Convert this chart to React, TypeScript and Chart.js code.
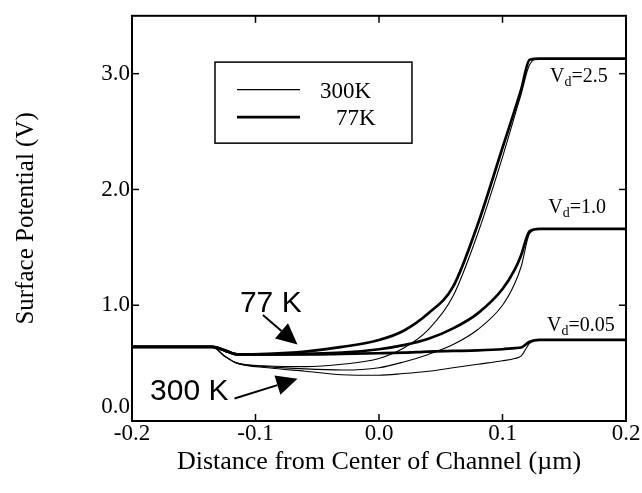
import React, { useEffect, useRef } from "react";
import { Chart, registerables } from "chart.js";

Chart.register(...registerables);

// Distance from center of channel (µm) — shared sampling positions
const X = [-0.2, -0.135, -0.125, -0.115, -0.09, -0.06, -0.03, 0.0, 0.02, 0.04, 0.06, 0.08, 0.1, 0.11, 0.115, 0.122, 0.13, 0.2];

// 77 K (thick lines)
const k77Vd005 = [0.64, 0.64, 0.61, 0.575, 0.575, 0.575, 0.58, 0.585, 0.59, 0.6, 0.605, 0.61, 0.62, 0.63, 0.635, 0.685, 0.7, 0.7];
const k77Vd10 = [0.64, 0.64, 0.61, 0.575, 0.575, 0.58, 0.59, 0.62, 0.655, 0.71, 0.8, 0.93, 1.14, 1.31, 1.43, 1.64, 1.66, 1.66];
const k77Vd25 = [0.64, 0.64, 0.61, 0.575, 0.58, 0.6, 0.64, 0.7, 0.78, 0.93, 1.16, 1.7, 2.36, 2.69, 2.86, 3.12, 3.13, 3.13];

// 300 K (thin lines)
const k300Vd005 = [0.64, 0.64, 0.56, 0.5, 0.46, 0.43, 0.4, 0.395, 0.41, 0.43, 0.46, 0.49, 0.52, 0.54, 0.56, 0.67, 0.7, 0.7];
const k300Vd10 = [0.64, 0.64, 0.56, 0.5, 0.47, 0.45, 0.44, 0.46, 0.51, 0.575, 0.66, 0.79, 1.0, 1.19, 1.33, 1.62, 1.66, 1.66];
const k300Vd25 = [0.64, 0.64, 0.56, 0.5, 0.475, 0.47, 0.49, 0.54, 0.63, 0.79, 1.08, 1.62, 2.28, 2.64, 2.82, 3.08, 3.13, 3.13];

const seriesLabels = ["300K", "77K"];
const vdLabels = ["2.5", "1.0", "0.05"];
const xTickValues = [-0.2, -0.1, 0.0, 0.1, 0.2];

const THIN = 1.1;
const THICK = 2.7;
const SERIF = "'Liberation Serif', 'Times New Roman', serif";
const SANS = "'Liberation Sans', Arial, sans-serif";

// annotation anchors in data coordinates
const vdLabelPos = [
  { x: 0.1385, y: 2.93 },
  { x: 0.137, y: 1.8 },
  { x: 0.136, y: 0.78 },
];
const legendBox = { x0: -0.1328, x1: 0.0267, y0: 3.1, y1: 2.4 };
const arrow77 = { text: "77 K", tx: -0.1126, ty: 0.94, x0: -0.094, y0: 0.915, x1: -0.066, y1: 0.66 };
const arrow300 = { text: "300 K", tx: -0.1854, ty: 0.178, x0: -0.117, y0: 0.195, x1: -0.066, y1: 0.364 };

function toPts(ys: number[]) {
  return X.map((x, i) => ({ x, y: ys[i] }));
}

const framePlugin = {
  id: "frameAndAnnotations",
  afterDraw(chart: any) {
    const { ctx, chartArea, scales } = chart;
    const { left, right, top, bottom } = chartArea;
    const xs = scales.x;
    const ys = scales.y;
    ctx.save();
    ctx.strokeStyle = "#000";
    ctx.fillStyle = "#000";
    ctx.lineWidth = 2;
    ctx.strokeRect(left, top, right - left, bottom - top);

    const line = (a: number, b: number, c: number, d: number) => {
      ctx.beginPath();
      ctx.moveTo(a, b);
      ctx.lineTo(c, d);
      ctx.stroke();
    };
    ctx.lineWidth = 1.5;
    ys.ticks.forEach((t: any) => {
      if (t.value <= ys.min || t.value >= ys.max) return;
      const py = ys.getPixelForValue(t.value);
      const major = Math.abs(t.value - Math.round(t.value)) < 1e-9;
      const len = major ? 7 : 4;
      line(left, py, left + len, py);
      line(right, py, right - len, py);
    });
    xs.ticks.forEach((t: any) => {
      if (t.value <= xs.min + 1e-9 || t.value >= xs.max - 1e-9) return;
      const px = xs.getPixelForValue(t.value);
      line(px, bottom, px, bottom - 7);
      line(px, top, px, top + 7);
    });

    // legend
    const bx0 = xs.getPixelForValue(legendBox.x0);
    const bx1 = xs.getPixelForValue(legendBox.x1);
    const by0 = ys.getPixelForValue(legendBox.y0);
    const by1 = ys.getPixelForValue(legendBox.y1);
    ctx.lineWidth = 1.5;
    ctx.strokeRect(bx0, by0, bx1 - bx0, by1 - by0);
    const h = by1 - by0;
    const rows = [by0 + h * 0.34, by0 + h * 0.68];
    const widths = [THIN, THICK];
    ctx.font = `23px ${SERIF}`;
    ctx.textBaseline = "middle";
    ctx.textAlign = "left";
    seriesLabels.forEach((lab, i) => {
      ctx.lineWidth = widths[i];
      line(bx0 + 22, rows[i], bx0 + 85, rows[i]);
      ctx.fillText(lab, bx0 + (i === 0 ? 105 : 121), rows[i] + 2);
    });

    // Vd labels
    vdLabels.forEach((v, i) => {
      let px = xs.getPixelForValue(vdLabelPos[i].x);
      const py = ys.getPixelForValue(vdLabelPos[i].y);
      ctx.textBaseline = "alphabetic";
      ctx.font = `20px ${SERIF}`;
      ctx.fillText("V", px, py);
      px += ctx.measureText("V").width;
      ctx.font = `14px ${SERIF}`;
      ctx.fillText("d", px, py + 4);
      px += ctx.measureText("d").width;
      ctx.font = `20px ${SERIF}`;
      ctx.fillText("=" + v, px, py);
    });

    // arrows with text
    [arrow77, arrow300].forEach((a) => {
      ctx.font = `30px ${SANS}`;
      ctx.textBaseline = "alphabetic";
      ctx.fillText(a.text, xs.getPixelForValue(a.tx), ys.getPixelForValue(a.ty));
      const x0 = xs.getPixelForValue(a.x0);
      const y0 = ys.getPixelForValue(a.y0);
      const x1 = xs.getPixelForValue(a.x1);
      const y1 = ys.getPixelForValue(a.y1);
      const ang = Math.atan2(y1 - y0, x1 - x0);
      const hl = 21;
      const hw = 10;
      const bxm = x1 - hl * Math.cos(ang);
      const bym = y1 - hl * Math.sin(ang);
      ctx.lineWidth = 2;
      line(x0, y0, bxm, bym);
      ctx.beginPath();
      ctx.moveTo(x1, y1);
      ctx.lineTo(bxm + hw * Math.sin(ang), bym - hw * Math.cos(ang));
      ctx.lineTo(bxm - hw * Math.sin(ang), bym + hw * Math.cos(ang));
      ctx.closePath();
      ctx.fill();
    });
    ctx.restore();
  },
};

export default function App() {
  const ref = useRef<HTMLCanvasElement | null>(null);
  useEffect(() => {
    if (!ref.current) return;
    const mk = (label: string, ys: number[], w: number) => ({
      label,
      data: toPts(ys),
      borderColor: "#000",
      backgroundColor: "#000",
      borderWidth: w,
      pointRadius: 0,
      fill: false,
      cubicInterpolationMode: "monotone" as const,
    });
    const chart = new Chart(ref.current, {
      type: "line",
      data: {
        datasets: [
          mk("300K Vd=0.05", k300Vd005, THIN),
          mk("300K Vd=1.0", k300Vd10, THIN),
          mk("300K Vd=2.5", k300Vd25, THIN),
          mk("77K Vd=0.05", k77Vd005, THICK),
          mk("77K Vd=1.0", k77Vd10, THICK),
          mk("77K Vd=2.5", k77Vd25, THICK),
        ],
      },
      options: {
        animation: false,
        responsive: false,
        layout: { padding: { left: 0, right: 16, top: 7, bottom: 0 } },
        plugins: { legend: { display: false }, tooltip: { enabled: false } },
        scales: {
          x: {
            type: "linear",
            min: -0.2,
            max: 0.2,
            afterFit: (s: any) => {
              s.height = 72;
            },
            afterBuildTicks: (s: any) => {
              s.ticks = xTickValues.map((v) => ({ value: v }));
            },
            grid: { display: false, drawTicks: false },
            border: { display: false },
            ticks: {
              padding: -1,
              color: "#000",
              font: { family: SERIF, size: 23 },
              callback: (v: any) => Number(v).toFixed(1),
            },
            title: {
              display: true,
              text: "Distance from Center of Channel (\u00b5m)",
              color: "#000",
              font: { family: SERIF, size: 26 },
              padding: { top: 0, bottom: 15 },
            },
          },
          y: {
            type: "linear",
            min: 0,
            max: 3.5,
            afterFit: (s: any) => {
              s.width = 132;
            },
            grid: { display: false, drawTicks: false },
            border: { display: false },
            ticks: {
              stepSize: 0.5,
              padding: 2,
              color: "#000",
              font: { family: SERIF, size: 23 },
              callback: (v: any) => {
                const n = Number(v);
                if (Math.abs(n - Math.round(n)) > 1e-9) return "";
                if (n === 0) return ["0.0", ""];
                return n.toFixed(1);
              },
            },
            title: {
              display: true,
              text: "Surface Potential (V)",
              color: "#000",
              font: { family: SERIF, size: 25 },
              padding: { top: 11, bottom: 0 },
            },
          },
        },
      },
      plugins: [framePlugin],
    });
    return () => chart.destroy();
  }, []);
  return (
    <div style={{ position: "absolute", left: 0, top: 0, width: 642, height: 493, background: "#fff" }}>
      <canvas ref={ref} width={642} height={493} style={{ display: "block" }} />
    </div>
  );
}
